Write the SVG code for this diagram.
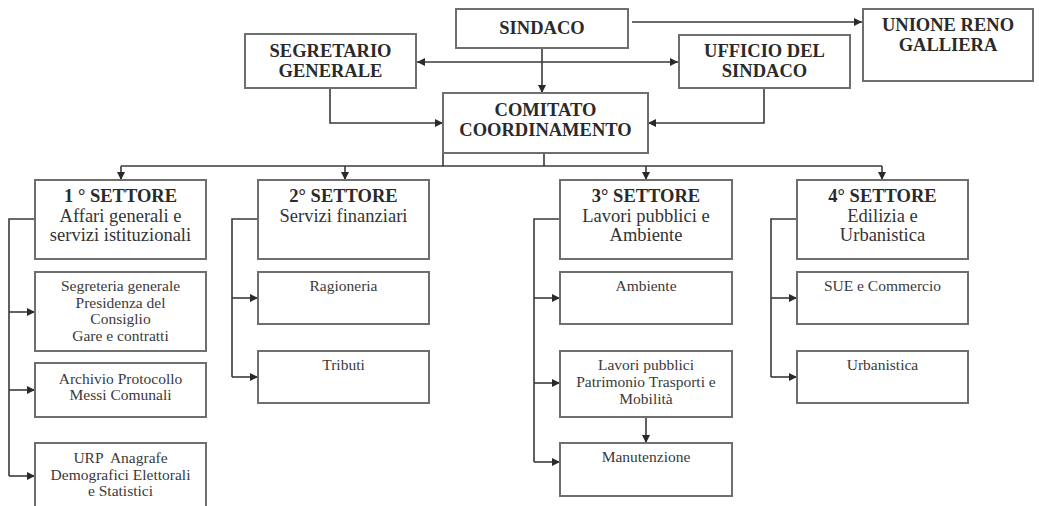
<svg xmlns="http://www.w3.org/2000/svg" width="1039" height="506" viewBox="0 0 1039 506">
<style>
.box{fill:#fff;stroke:#6e6e6e;stroke-width:2}
.hd{font-family:"Liberation Serif","Times New Roman",serif;font-weight:bold;font-size:18.5px;fill:#2a2a2a;text-anchor:middle}
.ds{font-family:"Liberation Serif","Times New Roman",serif;font-size:18.5px;fill:#333;text-anchor:middle}
.sb{font-family:"Liberation Serif","Times New Roman",serif;font-size:15.5px;fill:#3a3a3a;text-anchor:middle}
.ln{fill:none;stroke:#3a3a3a;stroke-width:1.6}
.ar{marker-end:url(#ah)}
</style>
<defs>
<marker id="ah" markerUnits="userSpaceOnUse" viewBox="0 0 8 8" refX="8" refY="4" markerWidth="8" markerHeight="8" orient="auto-start-reverse">
<path d="M0,0 L8,4 L0,8 z" fill="#2a2a2a"/>
</marker>
</defs>
<rect width="1039" height="506" fill="#fff"/>

<g id="connectors">
<path class="ln ar" d="M632,22 H862"/>
<path class="ln ar" d="M417,62 H678" marker-start="url(#ah)"/>
<path class="ln ar" d="M542,48 V93"/>
<path class="ln ar" d="M330,88 V123 H443"/>
<path class="ln ar" d="M764,88 V123 H648"/>
<path class="ln" d="M443,153 V166 M544,153 V166"/>
<path class="ln" d="M121,166 H882"/>
<path class="ln ar" d="M121,166 V180"/>
<path class="ln ar" d="M345,166 V180"/>
<path class="ln ar" d="M646,166 V180"/>
<path class="ln ar" d="M882,166 V180"/>
<path class="ln" d="M35,219 H9 V476"/>
<path class="ln ar" d="M9,312 H35"/>
<path class="ln ar" d="M9,390 H35"/>
<path class="ln ar" d="M9,476 H35"/>
<path class="ln" d="M258,219 H232 V377"/>
<path class="ln ar" d="M232,298 H258"/>
<path class="ln ar" d="M232,377 H258"/>
<path class="ln" d="M560,219 H534 V462"/>
<path class="ln ar" d="M534,298 H560"/>
<path class="ln ar" d="M534,383 H560"/>
<path class="ln ar" d="M534,462 H560"/>
<path class="ln ar" d="M646,417 V443"/>
<path class="ln" d="M797,219 H771 V377"/>
<path class="ln ar" d="M771,298 H797"/>
<path class="ln ar" d="M771,377 H797"/>
</g>

<g id="sindaco">
<rect class="box" x="456" y="9" width="172" height="39"/>
<text class="hd" x="542" y="34">SINDACO</text>
</g>
<g id="unione">
<rect class="box" x="863" y="9" width="170" height="72"/>
<text class="hd" x="948" y="31">UNIONE RENO</text>
<text class="hd" x="948" y="51">GALLIERA</text>
</g>
<g id="segretario">
<rect class="box" x="245" y="34" width="171" height="54"/>
<text class="hd" x="330.5" y="57">SEGRETARIO</text>
<text class="hd" x="330.5" y="77">GENERALE</text>
</g>
<g id="ufficio">
<rect class="box" x="679" y="35" width="171" height="53"/>
<text class="hd" x="764.5" y="57">UFFICIO DEL</text>
<text class="hd" x="764.5" y="77">SINDACO</text>
</g>
<g id="comitato">
<rect class="box" x="443" y="93" width="205" height="60"/>
<text class="hd" x="545.5" y="116">COMITATO</text>
<text class="hd" x="545.5" y="136">COORDINAMENTO</text>
</g>

<g id="settore1">
<rect class="box" x="35" y="180" width="171" height="79"/>
<text class="hd" x="120.5" y="202">1 ° SETTORE</text>
<text class="ds" x="120.5" y="222">Affari generali e</text>
<text class="ds" x="120.5" y="241">servizi istituzionali</text>
</g>
<g id="settore2">
<rect class="box" x="258" y="180" width="171" height="79"/>
<text class="hd" x="343.5" y="202">2° SETTORE</text>
<text class="ds" x="343.5" y="222">Servizi finanziari</text>
</g>
<g id="settore3">
<rect class="box" x="560" y="180" width="172" height="79"/>
<text class="hd" x="646" y="202">3° SETTORE</text>
<text class="ds" x="646" y="222">Lavori pubblici e</text>
<text class="ds" x="646" y="241">Ambiente</text>
</g>
<g id="settore4">
<rect class="box" x="797" y="180" width="171" height="79"/>
<text class="hd" x="882.5" y="202">4° SETTORE</text>
<text class="ds" x="882.5" y="222">Edilizia e</text>
<text class="ds" x="882.5" y="241">Urbanistica</text>
</g>

<g id="segreteria">
<rect class="box" x="35" y="272" width="171" height="79"/>
<text class="sb" x="120.5" y="291">Segreteria generale</text>
<text class="sb" x="120.5" y="307.5">Presidenza del</text>
<text class="sb" x="120.5" y="324">Consiglio</text>
<text class="sb" x="120.5" y="340.5">Gare e contratti</text>
</g>
<g id="archivio">
<rect class="box" x="35" y="363" width="171" height="54"/>
<text class="sb" x="120.5" y="384">Archivio Protocollo</text>
<text class="sb" x="120.5" y="400">Messi Comunali</text>
</g>
<g id="urp">
<rect class="box" x="35" y="443" width="171" height="70"/>
<text class="sb" x="120.5" y="463" style="white-space:pre" xml:space="preserve">URP  Anagrafe</text>
<text class="sb" x="120.5" y="479.5">Demografici Elettorali</text>
<text class="sb" x="120.5" y="496">e Statistici</text>
</g>
<g id="ragioneria">
<rect class="box" x="258" y="272" width="171" height="52"/>
<text class="sb" x="343.5" y="291">Ragioneria</text>
</g>
<g id="tributi">
<rect class="box" x="258" y="351" width="171" height="52"/>
<text class="sb" x="343.5" y="370">Tributi</text>
</g>
<g id="ambiente">
<rect class="box" x="560" y="272" width="172" height="52"/>
<text class="sb" x="646" y="291">Ambiente</text>
</g>
<g id="lavori">
<rect class="box" x="560" y="351" width="172" height="66"/>
<text class="sb" x="646" y="370">Lavori pubblici</text>
<text class="sb" x="646" y="387">Patrimonio Trasporti e</text>
<text class="sb" x="646" y="404">Mobilità</text>
</g>
<g id="manutenzione">
<rect class="box" x="560" y="443" width="172" height="53"/>
<text class="sb" x="646" y="462">Manutenzione</text>
</g>
<g id="sue">
<rect class="box" x="797" y="272" width="171" height="52"/>
<text class="sb" x="882.5" y="291">SUE e Commercio</text>
</g>
<g id="urbanistica">
<rect class="box" x="797" y="351" width="171" height="52"/>
<text class="sb" x="882.5" y="370">Urbanistica</text>
</g>
</svg>
